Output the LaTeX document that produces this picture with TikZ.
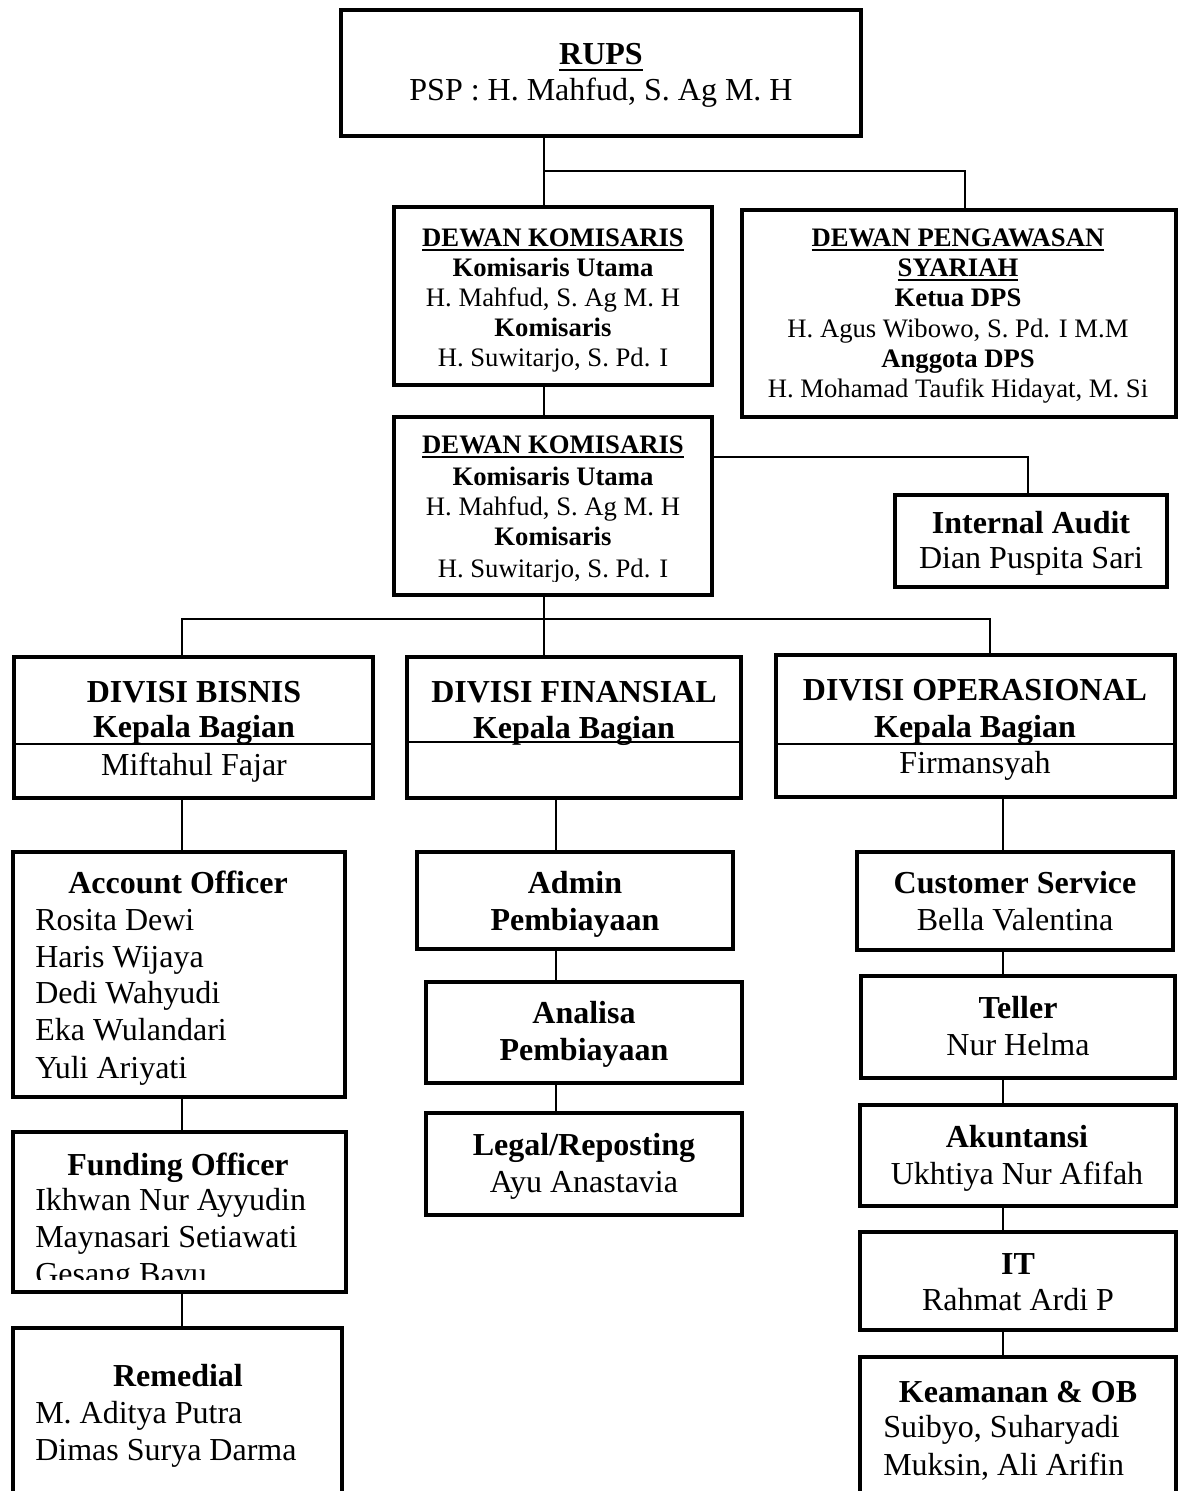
\documentclass[tikz,border=0pt]{standalone}
\usepackage{fontspec}
\setmainfont{Liberation Serif}
\usetikzlibrary{fit}
\newcommand\fbig{\fontsize{24}{28}\selectfont}
\newcommand\fsml{\fontsize{20}{24}\selectfont}
\newcommand\myul[1]{\setbox0=\hbox{#1}\rlap{\rule[-0.2em]{\wd0}{0.075em}}\box0}
\begin{document}
\begin{tikzpicture}[x=0.75pt,y=-0.75pt,
  box/.style={draw, line width=3pt, inner sep=0pt},
  conn/.style={line width=1.2pt},
  divline/.style={line width=1pt},
  tb/.style={anchor=base, inner sep=0pt, font=\fbig\bfseries},
  tn/.style={anchor=base, inner sep=0pt, font=\fbig},
  tl/.style={anchor=base west, inner sep=0pt, font=\fbig},
  sb/.style={anchor=base, inner sep=0pt, font=\fsml\bfseries},
  sn/.style={anchor=base, inner sep=0pt, font=\fsml}]
\path[fill=white] (0,0) rectangle (1181,1491);
\useasboundingbox (0,0) rectangle (1181,1491);

% boxes
\node[box, fit={(341,10) (861,136)}] (rups) {};
\node[box, fit={(394,207) (712,385)}] (dk1) {};
\node[box, fit={(742,210) (1176,417)}] (dps) {};
\node[box, fit={(394,417) (712,595)}] (dk2) {};
\node[box, fit={(895,495) (1167,587)}] (ia) {};
\node[box, fit={(14,657) (373,798)}] (db) {};
\node[box, fit={(407,657) (741,798)}] (df) {};
\node[box, fit={(776,655) (1175,797)}] (do) {};
\node[box, fit={(13,852) (345,1097)}] (ao) {};
\node[box, fit={(13,1132) (346,1292)}] (fo) {};
\node[box, fit={(13,1328) (342,1500)}] (rem) {};
\node[box, fit={(417,852) (733,949)}] (adm) {};
\node[box, fit={(426,982) (742,1083)}] (ana) {};
\node[box, fit={(426,1113) (742,1215)}] (leg) {};
\node[box, fit={(857,852) (1173,950)}] (cs) {};
\node[box, fit={(861,976) (1175,1078)}] (tel) {};
\node[box, fit={(860,1105) (1176,1206)}] (aku) {};
\node[box, fit={(860,1232) (1176,1330)}] (it) {};
\node[box, fit={(860,1357) (1176,1500)}] (kea) {};

% division dividers
\coordinate (dbd) at (14,744);
\coordinate (dfd) at (407,742);
\coordinate (dod) at (776,744);
\draw[divline] (dbd) -- (dbd -| db.east);
\draw[divline] (dfd) -- (dfd -| df.east);
\draw[divline] (dod) -- (dod -| do.east);

% connector junctions
\coordinate (j1) at (544,171);
\coordinate (j2) at (965,171);
\coordinate (j3) at (1028,457);
\coordinate (j4) at (544,619);
\coordinate (j5) at (182,619);
\coordinate (j6) at (990,619);
\coordinate (cb) at (182,0);
\coordinate (cf) at (556,0);
\coordinate (co) at (1003,0);

\draw[conn] (rups.south -| j1) -- (dk1.north -| j1);
\draw[conn] (j1) -- (j2) -- (j2 |- dps.north);
\draw[conn] (dk1.south -| j1) -- (dk2.north -| j1);
\draw[conn] (dk2.east |- j3) -- (j3) -- (j3 |- ia.north);
\draw[conn] (dk2.south -| j4) -- (j4 |- df.north);
\draw[conn] (j5 |- db.north) -- (j5) -- (j6) -- (j6 |- do.north);
\draw[conn] (db.south -| cb) -- (ao.north -| cb);
\draw[conn] (ao.south -| cb) -- (fo.north -| cb);
\draw[conn] (fo.south -| cb) -- (rem.north -| cb);
\draw[conn] (df.south -| cf) -- (adm.north -| cf);
\draw[conn] (adm.south -| cf) -- (ana.north -| cf);
\draw[conn] (ana.south -| cf) -- (leg.north -| cf);
\draw[conn] (do.south -| co) -- (cs.north -| co);
\draw[conn] (cs.south -| co) -- (tel.north -| co);
\draw[conn] (tel.south -| co) -- (aku.north -| co);
\draw[conn] (aku.south -| co) -- (it.north -| co);
\draw[conn] (it.south -| co) -- (kea.north -| co);

% RUPS
\node[tb] (rups1) at (601,65) {\myul{RUPS}};
\node[tn] (rups2) at (601,101) {PSP : H. Mahfud, S. Ag M. H};

% Dewan Komisaris 1
\node[sb] (dka) at (553,246) {\myul{DEWAN KOMISARIS}};
\node[sb] (dkb) at (553,276) {Komisaris Utama};
\node[sn] (dkc) at (553,306) {H. Mahfud, S. Ag M. H};
\node[sb] (dkd) at (553,336) {Komisaris};
\node[sn] (dke) at (553,366) {H. Suwitarjo, S. Pd. I};

% DPS
\node[sb] (dpa) at (958,246) {\myul{DEWAN PENGAWASAN}};
\node[sb] (dpb) at (958,276) {\myul{SYARIAH}};
\node[sb] (dpc) at (958,306) {Ketua DPS};
\node[sn] (dpd) at (958,337) {H. Agus Wibowo, S. Pd. I M.M};
\node[sb] (dpe) at (958,367) {Anggota DPS};
\node[sn] (dpf) at (958,397) {H. Mohamad Taufik Hidayat, M. Si};

% Dewan Komisaris 2
\node[sb] (dk2a) at (553,453) {\myul{DEWAN KOMISARIS}};
\node[sb] (dk2b) at (553,485) {Komisaris Utama};
\node[sn] (dk2c) at (553,515) {H. Mahfud, S. Ag M. H};
\node[sb] (dk2d) at (553,545) {Komisaris};
\begin{scope}
\clip (394,420) rectangle (712,581);
\node[sn] (dk2e) at (553,577) {H. Suwitarjo, S. Pd. I};
\end{scope}

% Internal Audit
\node[tb] (iaa) at (1031,533) {Internal Audit};
\begin{scope}
\clip (895,540) rectangle (1167,574);
\node[tn] (iab) at (1031,568) {Dian Puspita Sari};
\end{scope}

% Divisions
\node[tb] (dba) at (194,702) {DIVISI BISNIS};
\node[tb] (dbb) at (194,737) {Kepala Bagian};
\node[tn] (dbc) at (194,775) {Miftahul Fajar};
\node[tb] (dfa) at (574,702) {DIVISI FINANSIAL};
\node[tb] (dfb) at (574,738) {Kepala Bagian};
\node[tb] (doa) at (975,700) {DIVISI OPERASIONAL};
\node[tb] (dob) at (975,737) {Kepala Bagian};
\node[tn] (doc) at (975,773) {Firmansyah};

% Account Officer
\node[tb] (aoa) at (178,893) {Account Officer};
\node[tl] (aob) at (35,930) {Rosita Dewi};
\node[tl] (aoc) at (35,967) {Haris Wijaya};
\node[tl] (aod) at (35,1003) {Dedi Wahyudi};
\node[tl] (aoe) at (35,1040) {Eka Wulandari};
\node[tl] (aof) at (35,1078) {Yuli Ariyati};

% Funding Officer
\node[tb] (foa) at (178,1175) {Funding Officer};
\node[tl] (fob) at (35,1210) {Ikhwan Nur Ayyudin};
\node[tl] (foc) at (35,1247) {Maynasari Setiawati};
\begin{scope}
\clip (13,1135) rectangle (346,1279);
\node[tl] (fod) at (35,1284) {Gesang Bayu};
\end{scope}

% Remedial
\node[tb] (rema) at (178,1386) {Remedial};
\node[tl] (remb) at (35,1423) {M. Aditya Putra};
\node[tl] (remc) at (35,1460) {Dimas Surya Darma};

% Financial column
\node[tb] (adma) at (575,893) {Admin};
\node[tb] (admb) at (575,930) {Pembiayaan};
\node[tb] (anaa) at (584,1023) {Analisa};
\node[tb] (anab) at (584,1060) {Pembiayaan};
\node[tb] (lega) at (584,1155) {Legal/Reposting};
\node[tn] (legb) at (584,1192) {Ayu Anastavia};

% Operational column
\node[tb] (csa) at (1015,893) {Customer Service};
\node[tn] (csb) at (1015,930) {Bella Valentina};
\node[tb] (tela) at (1018,1018) {Teller};
\node[tn] (telb) at (1018,1055) {Nur Helma};
\node[tb] (akua) at (1017,1147) {Akuntansi};
\node[tn] (akub) at (1017,1184) {Ukhtiya Nur Afifah};
\node[tb] (ita) at (1018,1274) {IT};
\node[tn] (itb) at (1018,1310) {Rahmat Ardi P};
\node[tb] (keaa) at (1018,1402) {Keamanan \& OB};
\node[tl] (keab) at (883,1437) {Suibyo, Suharyadi};
\node[tl] (keac) at (883,1475) {Muksin, Ali Arifin};
\end{tikzpicture}
\end{document}
